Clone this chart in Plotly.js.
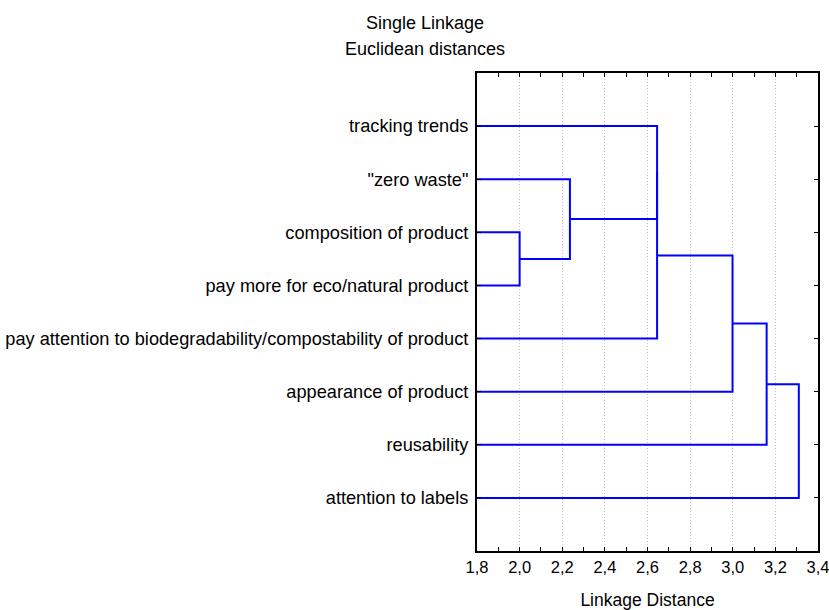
<!DOCTYPE html>
<html><head><meta charset="utf-8">
<script src="https://cdn.plot.ly/plotly-3.0.1.min.js"></script>
<style>html,body{margin:0;padding:0;background:#fff}#chart{width:829px;height:610px}</style>
</head><body><div id="chart"></div>
<script>
// Leaves, top to bottom
var labels = ['tracking trends', '"zero waste"', 'composition of product', 'pay more for eco/natural product',
  'pay attention to biodegradability/compostability of product', 'appearance of product', 'reusability', 'attention to labels'];
// Merge steps (single linkage): node ids 0..7 are leaves, each step creates node 8, 9, ...
var mergeA = [2, 1, 0, 10, 11, 12, 13];
var mergeB = [3, 8, 9, 4, 5, 6, 7];
var mergeDist = [2.00, 2.236, 2.645, 2.645, 2.999, 3.159, 3.310];
var xTicks = [1.8, 2.0, 2.2, 2.4, 2.6, 2.8, 3.0, 3.2, 3.4];

// Build dendrogram path from the merge table
var nodeH = [], nodeP = [];
for (var i = 0; i < labels.length; i++) { nodeH.push(0); nodeP.push(i + 1); }
var xs = [], ys = [];
for (var k = 0; k < mergeA.length; k++) {
  var a = mergeA[k], b = mergeB[k], d = mergeDist[k];
  xs.push(nodeH[a], d, d, nodeH[b], null);
  ys.push(nodeP[a], nodeP[a], nodeP[b], nodeP[b], null);
  nodeH.push(d); nodeP.push((nodeP[a] + nodeP[b]) / 2);
}

var F = 'Arial, "Liberation Sans", sans-serif';
var trace = {x: xs, y: ys, mode: 'lines', type: 'scatter', line: {color: '#0000ff', width: 2}, hoverinfo: 'skip', showlegend: false};

var layout = {
  width: 829, height: 610,
  margin: {l: 477, r: 11, t: 73, b: 59},
  paper_bgcolor: '#fff', plot_bgcolor: '#fff',
  separators: ', ',
  font: {family: F, size: 18, color: '#000'},
  title: {text: 'Single Linkage', xref: 'container', x: 425/829, xanchor: 'center', yref: 'container', y: 1 - 16/610, yanchor: 'top',
    font: {family: F, size: 18, color: '#000'}},
  annotations: [{text: 'Euclidean distances', xref: 'paper', yref: 'paper', x: (425 - 477) / 341, y: 1 + (73 - 49) / 478,
    xanchor: 'center', yanchor: 'middle', showarrow: false, font: {family: F, size: 18, color: '#000'}}],
  xaxis: {range: [1.8, 3.4], tickvals: xTicks, tickformat: '.1f', ticks: 'inside', ticklen: 4, tickcolor: '#000',
    showline: true, linecolor: '#000', linewidth: 2, mirror: 'ticks', zeroline: false, ticklabeloverflow: 'allow',
    showgrid: true, gridcolor: '#c4c4c4', griddash: '1px,2px', gridwidth: 1,
    minor: {dtick: 0.1, ticks: 'inside', ticklen: 4, tickcolor: '#000', showgrid: false},
    tickfont: {family: F, size: 16.5, color: '#000'},
    title: {text: 'Linkage Distance', font: {family: F, size: 17.5, color: '#000'}, standoff: 20}, automargin: false},
  yaxis: {range: [9, 0], tickvals: [1, 2, 3, 4, 5, 6, 7, 8], ticktext: labels, ticks: 'inside', ticklen: 4, tickcolor: '#000',
    showline: true, linecolor: '#000', linewidth: 2, mirror: 'ticks', zeroline: false, showgrid: false, ticklabelstandoff: 3,
    ticklabeloverflow: 'allow', tickfont: {family: F, size: 18.2, color: '#000'}, automargin: false}
};
Plotly.newPlot('chart', [trace], layout, {displayModeBar: false, staticPlot: true});
</script></body></html>
